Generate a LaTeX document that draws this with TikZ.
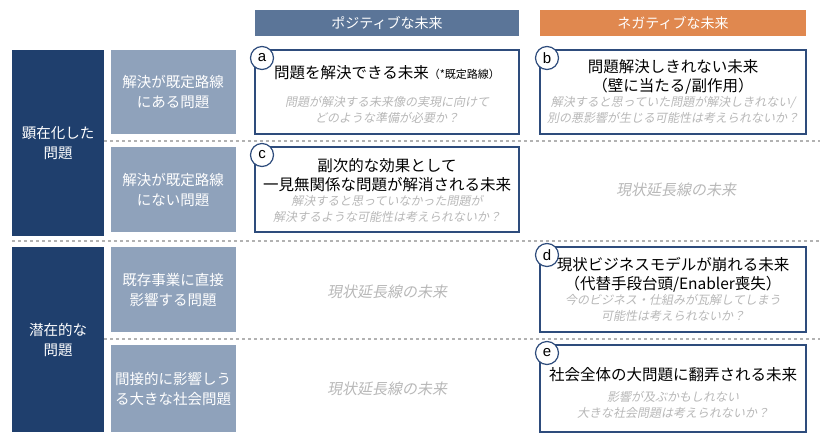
\documentclass[tikz,border=0pt]{standalone}
\usepackage{fontspec}
\setmainfont{Noto Sans CJK JP}
\setsansfont{Liberation Sans}
\newfontfamily\jpit[FakeSlant=0.2]{Noto Sans CJK JP}
\usetikzlibrary{positioning}
\definecolor{posblue}{HTML}{5B7598}
\definecolor{negorange}{HTML}{E0884F}
\definecolor{darkcol}{HTML}{1F3F6D}
\definecolor{midcol}{HTML}{8FA2BB}
\definecolor{boxline}{HTML}{2E4C7C}
\definecolor{hintgray}{HTML}{B8B8B8}
\begin{document}
\begin{tikzpicture}[x=1pt,y=-1pt]
  \tikzset{header/.style = {text=white,font=\fontsize{14}{16}\selectfont}}
  \tikzset{cat/.style = {text=white,align=center,font=\fontsize{14.5}{20}\selectfont}}
  \tikzset{futurebox/.style = {draw=boxline,line width=1.2pt,fill=white}}
  \tikzset{tag/.style = {shape=circle,draw=boxline,line width=1.2pt,fill=white,minimum size=23pt,inner sep=0pt,font=\sffamily\fontsize{15}{15}\selectfont}}
  \tikzset{title/.style = {align=center,font=\fontsize{15.5}{19}\selectfont}}
  \tikzset{hint/.style = {align=center,text=hintgray,font=\jpit\fontsize{12}{16}\selectfont}}
  \tikzset{trend/.style = {text=hintgray,font=\jpit\fontsize{15}{16}\selectfont}}
  \tikzset{sep/.style = {draw=gray!60,dashed,line width=1.2pt}}

  \useasboundingbox (0,0) rectangle (824,439);

  % headers
  \fill[posblue] (255,10) rectangle (519,36);
  \fill[negorange] (540,10) rectangle (806,36);
  \node[header] (pos) at (387,23) {ポジティブな未来};
  \node[header] (neg) at (673,23) {ネガティブな未来};

  % row categories
  \fill[darkcol] (12,50) rectangle (104,236);
  \fill[darkcol] (12,247) rectangle (104,432);
  \node[cat] (visible) at (58,143) {顕在化した\\問題};
  \node[cat] (latent) at (58,340) {潜在的な\\問題};
  \fill[midcol] (111,50) rectangle (236,134);
  \fill[midcol] (111,147) rectangle (236,232);
  \fill[midcol] (111,247) rectangle (236,332);
  \fill[midcol] (111,345) rectangle (236,432);
  \node[cat] (onroute) at (173,92) {解決が既定路線\\にある問題};
  \node[cat] (offroute) at (173,190) {解決が既定路線\\にない問題};
  \node[cat] (direct) at (173,290) {既存事業に直接\\影響する問題};
  \node[cat] (indirect) at (173,389) {間接的に影響しう\\る大きな社会問題};

  % separators
  \draw[sep] (104,141) -- (820,141);
  \draw[sep] (12,241) -- (820,241);
  \draw[sep] (104,339) -- (820,339);

  % future boxes
  \draw[futurebox] (255,50) rectangle (519,134);
  \draw[futurebox] (540,50) rectangle (806,134);
  \draw[futurebox] (255,147) rectangle (519,232);
  \draw[futurebox] (540,247) rectangle (806,332);
  \draw[futurebox] (540,345) rectangle (806,432);

  \node[title] (ta) at (387,73) {問題を解決できる未来{\fontsize{11}{12}\selectfont（*既定路線）}};
  \node[hint] (ha) at (387,110) {問題が解決する未来像の実現に向けて\\どのような準備が必要か？};
  \node[title] (tb) at (673,77) {問題解決しきれない未来\\（壁に当たる/副作用）};
  \node[hint] (hb) at (673,110) {解決すると思っていた問題が解決しきれない/\\別の悪影響が生じる可能性は考えられないか？};
  \node[title] (tc) at (387,175) {副次的な効果として\\一見無関係な問題が解消される未来};
  \node[hint] (hc) at (387,209) {解決すると思っていなかった問題が\\解決するような可能性は考えられないか？};
  \node[title] (td) at (673,275) {現状ビジネスモデルが崩れる未来\\（代替手段台頭/Enabler喪失）};
  \node[hint] (hd) at (673,308) {今のビジネス・仕組みが瓦解してしまう\\可能性は考えられないか？};
  \node[title] (te) at (673,375) {社会全体の大問題に翻弄される未来};
  \node[hint] (he) at (673,405) {影響が及ぶかもしれない\\大きな社会問題は考えられないか？};

  \node[trend] (trendc) at (676,190) {現状延長線の未来};
  \node[trend] (trendd) at (387,292) {現状延長線の未来};
  \node[trend] (trende) at (387,389) {現状延長線の未来};

  \foreach \name/\x/\y in {a/262/58, b/547/58, c/262/155, d/547/255, e/547/353}
    \node[tag] (tag\name) at (\x,\y) {\name};
\end{tikzpicture}
\end{document}
